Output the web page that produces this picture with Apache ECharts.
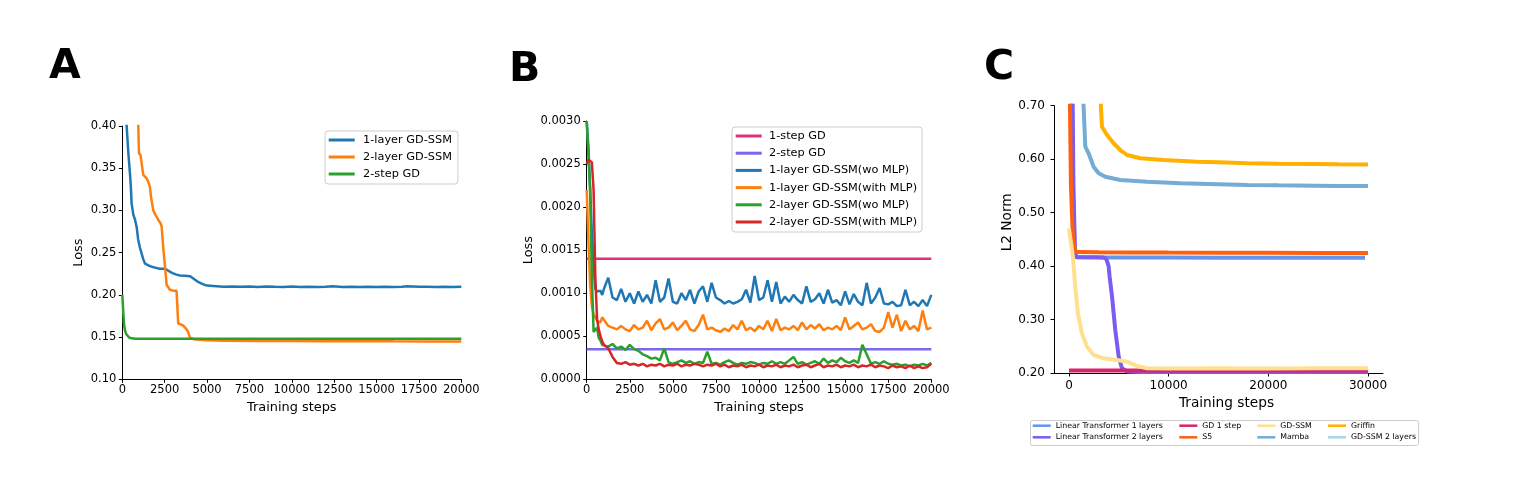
<!DOCTYPE html>
<html>
<head>
<meta charset="utf-8">
<script src="https://cdn.jsdelivr.net/npm/echarts@6/dist/echarts.min.js"></script>
<style>html,body{margin:0;padding:0;background:#fff}#main{width:1522px;height:486px}</style>
</head>
<body>
<div id="main"></div>
<script>
// ---------- Panel A data ----------
const aXTicks = [0, 2500, 5000, 7500, 10000, 12500, 15000, 17500, 20000];
const aBlue1LayerGDSSM = [[100,0.47],[256,0.40],[350,0.37],[450,0.344],[500,0.33],[550,0.308],[650,0.295],[750,0.289],[850,0.28],[940,0.265],[1040,0.256],[1140,0.249],[1240,0.242],[1340,0.237],[1450,0.235],[1630,0.234],[1800,0.233],[2000,0.232],[2200,0.231],[2420,0.231],[2600,0.230],[2710,0.229],[2850,0.227],[3000,0.2255],[3200,0.224],[3400,0.223],[3700,0.2225],[4000,0.222],[4150,0.220],[4290,0.218],[4500,0.215],[4780,0.2125],[5000,0.211],[5370,0.2105],[5960,0.2095],[6500,0.2100],[7000,0.2095],[7500,0.2098],[8000,0.2092],[8500,0.2100],[9000,0.2095],[9500,0.2093],[10000,0.2098],[10500,0.2094],[11000,0.2096],[11500,0.2092],[12000,0.2097],[12400,0.2102],[13000,0.2094],[13500,0.2097],[14000,0.2093],[14500,0.2096],[15000,0.2094],[15500,0.2097],[16000,0.2093],[16500,0.2096],[16800,0.2101],[17500,0.2095],[18000,0.2097],[18500,0.2093],[19000,0.2096],[19500,0.2094],[20000,0.2095]];
const aOrange2LayerGDSSM = [[850,0.44],[944,0.40],[983,0.368],[1080,0.365],[1140,0.356],[1240,0.342],[1340,0.341],[1435,0.338],[1550,0.333],[1630,0.328],[1700,0.315],[1830,0.300],[1950,0.295],[2120,0.289],[2250,0.285],[2320,0.281],[2420,0.255],[2520,0.2334],[2615,0.212],[2810,0.206],[3000,0.205],[3200,0.205],[3300,0.166],[3450,0.165],[3600,0.1635],[3800,0.159],[3900,0.155],[3990,0.1493],[4200,0.1475],[4390,0.147],[5000,0.1462],[6000,0.1457],[8000,0.1455],[10000,0.1453],[12000,0.1452],[14000,0.1452],[16000,0.145],[18000,0.1449],[20000,0.1448]];
const aGreen2StepGD = [[0,0.20],[30,0.19],[60,0.178],[100,0.166],[157,0.158],[220,0.154],[295,0.1517],[400,0.1495],[550,0.1485],[800,0.148],[2000,0.148],[5000,0.148],[10000,0.148],[15000,0.148],[20000,0.148]];

// ---------- Panel B data ----------
const bSteps = [0,100,200,300,400,500,600,700,800,900,1000,1250,1500,1750,2000,2250,2500,2750,3000,3250,3500,3750,4000,4250,4500,4750,5000,5250,5500,5750,6000,6250,6500,6750,7000,7250,7500,7750,8000,8250,8500,8750,9000,9250,9500,9750,10000,10250,10500,10750,11000,11250,11500,11750,12000,12250,12500,12750,13000,13250,13500,13750,14000,14250,14500,14750,15000,15250,15500,15750,16000,16250,16500,16750,17000,17250,17500,17750,18000,18250,18500,18750,19000,19250,19500,19750,20000];
const b1StepGD = [[0,0.0014],[20000,0.0014]];
const b2StepGD = [[0,0.00035],[20000,0.00035]];
const b1LayerWoMLP = [0.0030,0.0027,0.0022,0.0017,0.0013,0.00105,0.00102,0.00100,0.00103,0.00098,0.00105,0.00118,0.00095,0.00092,0.00105,0.00090,0.00100,0.00088,0.00102,0.00090,0.00098,0.00088,0.00115,0.00090,0.00095,0.00117,0.00090,0.00088,0.00100,0.00092,0.00104,0.00088,0.00102,0.00108,0.00090,0.00112,0.00095,0.00092,0.00088,0.00091,0.00088,0.00090,0.00093,0.00104,0.00089,0.00120,0.00092,0.00095,0.00115,0.00090,0.00113,0.00088,0.00096,0.00090,0.00098,0.00092,0.00088,0.00108,0.00090,0.00093,0.00100,0.00088,0.00104,0.00089,0.00092,0.00086,0.00102,0.00087,0.00099,0.00090,0.00086,0.00112,0.00088,0.00095,0.00106,0.00088,0.00087,0.00090,0.00085,0.00086,0.00104,0.00086,0.00090,0.00085,0.00092,0.00085,0.00098];
const b1LayerWithMLP = [0.0022,0.0016,0.0011,0.00085,0.00075,0.00072,0.00068,0.00070,0.00066,0.00072,0.00070,0.00062,0.00060,0.00058,0.00062,0.00058,0.00056,0.00063,0.00058,0.00060,0.00068,0.00057,0.00065,0.00070,0.00058,0.00060,0.00066,0.00057,0.00062,0.00068,0.00058,0.00056,0.00063,0.00075,0.00058,0.00060,0.00057,0.00055,0.00059,0.00056,0.00063,0.00058,0.00068,0.00057,0.00060,0.00056,0.00062,0.00058,0.00068,0.00056,0.00070,0.00057,0.00060,0.00058,0.00062,0.00057,0.00066,0.00058,0.00063,0.00059,0.00064,0.00057,0.00060,0.00058,0.00062,0.00057,0.00072,0.00058,0.00062,0.00066,0.00058,0.00060,0.00064,0.00056,0.00055,0.00060,0.00078,0.00060,0.00075,0.00056,0.00068,0.00058,0.00062,0.00056,0.00080,0.00058,0.00060];
const b2LayerWoMLP = [0.0030,0.0030,0.0022,0.0012,0.00055,0.00055,0.00060,0.00048,0.00045,0.00040,0.00042,0.00038,0.00041,0.00036,0.00038,0.00034,0.00040,0.00035,0.00033,0.00029,0.00027,0.00024,0.00025,0.00022,0.00036,0.00020,0.00018,0.00020,0.00022,0.00019,0.00021,0.00018,0.00020,0.00019,0.00032,0.00018,0.00019,0.00017,0.00020,0.00022,0.00019,0.00017,0.00019,0.00018,0.00020,0.00019,0.00017,0.00019,0.00018,0.00021,0.00018,0.00020,0.00018,0.00022,0.00026,0.00018,0.00020,0.00017,0.00019,0.00021,0.00018,0.00024,0.00019,0.00022,0.00020,0.00025,0.00021,0.00019,0.00022,0.00019,0.00040,0.00029,0.00018,0.00020,0.00018,0.00021,0.00018,0.00017,0.00018,0.00016,0.00017,0.00015,0.00017,0.00016,0.00018,0.00016,0.00019];
const b2LayerWithMLP = [0.0025,0.00255,0.00255,0.00252,0.0022,0.0012,0.0007,0.00058,0.00050,0.00044,0.00040,0.00036,0.00026,0.00019,0.00018,0.00020,0.00017,0.00018,0.00016,0.00018,0.00015,0.00017,0.00016,0.00018,0.00015,0.00017,0.00016,0.00018,0.00015,0.00017,0.00016,0.00018,0.00017,0.00015,0.00017,0.00016,0.00018,0.00015,0.00017,0.00014,0.00016,0.00015,0.00017,0.00014,0.00016,0.00015,0.00017,0.00014,0.00016,0.00015,0.00017,0.00014,0.00016,0.00015,0.00017,0.00014,0.00016,0.00017,0.00014,0.00016,0.00018,0.00014,0.00016,0.00015,0.00017,0.00014,0.00016,0.00015,0.00017,0.00014,0.00016,0.00015,0.00017,0.00014,0.00016,0.00015,0.00013,0.00016,0.00014,0.00015,0.00013,0.00016,0.00013,0.00015,0.00013,0.00014,0.00018];

// ---------- Panel C data ----------
const cXTicks = [0, 10000, 20000, 30000];
const cLinTrans1 = [[250,0.80],[400,0.55],[550,0.44],[700,0.417],[1500,0.4165],[5000,0.416],[10000,0.416],[15000,0.4158],[20000,0.4158],[25000,0.4157],[29700,0.4157]];
const cLinTrans2 = [[300,0.85],[450,0.55],[600,0.43],[700,0.4164],[1500,0.4164],[2500,0.4164],[3480,0.4160],[3750,0.413],[3980,0.40],[4080,0.38],[4320,0.343],[4650,0.28],[4990,0.2305],[5320,0.209],[5830,0.203],[7000,0.202],[30000,0.202]];
const cGD1Step = [[0,0.2045],[30000,0.2045]];
const cS5 = [[60,0.85],[100,0.70],[200,0.55],[400,0.45],[630,0.428],[1000,0.4262],[3000,0.4258],[6000,0.4255],[10000,0.4252],[15000,0.425],[20000,0.4248],[25000,0.4246],[30000,0.4245]];
const cGDSSM = [[0,0.4707],[200,0.4675],[400,0.4176],[630,0.3615],[900,0.3116],[1300,0.2742],[1810,0.249],[2480,0.2337],[3480,0.2275],[4820,0.2243],[5830,0.2212],[6830,0.2131],[7840,0.2088],[10000,0.2085],[15000,0.2088],[20000,0.2086],[25000,0.2088],[30000,0.2088]];
const cMamba = [[1300,0.75],[1470,0.698],[1640,0.6233],[1970,0.611],[2470,0.5859],[2980,0.5735],[3650,0.5672],[5150,0.561],[7840,0.5579],[11180,0.5548],[14000,0.5535],[17880,0.5517],[21000,0.551],[24580,0.5504],[27000,0.55],[30000,0.5498]];
const cGriffin = [[3100,0.75],[3200,0.70],[3310,0.6607],[3820,0.6452],[4480,0.6297],[5150,0.6171],[5830,0.6078],[7160,0.6016],[9500,0.5984],[12860,0.5953],[15000,0.594],[17880,0.5922],[21000,0.5915],[24580,0.591],[27000,0.5905],[30000,0.5902]];
const cGDSSM2Layers = [];

// ---------- build ----------
const FF = '"DejaVu Sans", sans-serif';
const zip = (xs, ys) => xs.map((x, i) => [x, ys[i]]);

function axisBase(fs, margin) {
  return {
    axisLine: {show: true, onZero: false, lineStyle: {color: '#000', width: 1}},
    axisTick: {show: true, inside: false, length: 3.5, lineStyle: {color: '#000', width: 1}},
    axisLabel: {color: '#000', fontSize: fs, fontFamily: FF, margin: margin},
    splitLine: {show: false}
  };
}

const C = {
  aBlue: '#1f77b4', aOrange: '#ff7f0e', aGreen: '#2ca02c',
  b1step: '#e0307e', b2step: '#7b68ee', bBlue: '#1f77b4', bOrange: '#ff7f0e', bGreen: '#2ca02c', bRed: '#d62728',
  lt1: '#6495ed', lt2: '#7b5cf0', gd1: '#d6246e', s5: '#ff5f0f', gdssm: '#ffe08f', mamba: '#74acd3', griffin: '#ffb000', gdssm2: '#a6d8e8'
};

function line(name, data, color, xi, w) {
  return {type: 'line', name, data, xAxisIndex: xi, yAxisIndex: xi, showSymbol: false, symbol: 'none',
    lineStyle: {color, width: w}, itemStyle: {color}, color, clip: true, animation: false};
}
function leg(name, color) { return {name, itemStyle: {color, borderWidth: 0}, lineStyle: {color}}; }

const series = [
  line('1-layer GD-SSM', aBlue1LayerGDSSM, C.aBlue, 0, 2.5),
  line('2-layer GD-SSM', aOrange2LayerGDSSM, C.aOrange, 0, 2.5),
  line('2-step GD', aGreen2StepGD, C.aGreen, 0, 2.5),
  line('1-step GD', b1StepGD, C.b1step, 1, 2.5),
  line('2-step GD (B)', b2StepGD, C.b2step, 1, 2.5),
  line('1-layer GD-SSM(wo MLP)', zip(bSteps, b1LayerWoMLP), C.bBlue, 1, 2.5),
  line('1-layer GD-SSM(with MLP)', zip(bSteps, b1LayerWithMLP), C.bOrange, 1, 2.5),
  line('2-layer GD-SSM(wo MLP)', zip(bSteps, b2LayerWoMLP), C.bGreen, 1, 2.5),
  line('2-layer GD-SSM(with MLP)', zip(bSteps, b2LayerWithMLP), C.bRed, 1, 2.5),
  line('Linear Transformer 1 layers', cLinTrans1, C.lt1, 2, 4),
  line('Linear Transformer 2 layers', cLinTrans2, C.lt2, 2, 4),
  line('GD 1 step', cGD1Step, C.gd1, 2, 4),
  line('S5', cS5, C.s5, 2, 4),
  line('GD-SSM', cGDSSM, C.gdssm, 2, 4),
  line('Mamba', cMamba, C.mamba, 2, 4),
  line('Griffin', cGriffin, C.griffin, 2, 4),
  line('GD-SSM 2 layers', cGDSSM2Layers, C.gdssm2, 2, 4)
];

const legABText = {fontFamily: FF, fontSize: 11.3, color: '#000', lineHeight: 13};
const legCText = {fontFamily: FF, fontSize: 7.8, color: '#000', lineHeight: 9};
function legendC(left, items) {
  return {left, top: 421.2, orient: 'vertical', itemWidth: 18, itemHeight: 2.5, itemGap: 2.6, padding: 0,
    icon: 'rect', selectedMode: false, textStyle: legCText, data: items};
}

const option = {
  backgroundColor: '#fff',
  animation: false,
  grid: [
    {left: 122.3, top: 126, width: 339, height: 253.3},
    {left: 586.7, top: 121, width: 344.6, height: 258.3},
    {left: 1054, top: 105.7, width: 329, height: 267.3}
  ],
  xAxis: [
    Object.assign(axisBase(11.5, 5), {type: 'value', gridIndex: 0, min: 0, max: 20000, interval: 2500,
      name: 'Training steps', nameLocation: 'middle', nameGap: 19,
      nameTextStyle: {fontFamily: FF, fontSize: 12.9, color: '#000'}}),
    Object.assign(axisBase(11.5, 5), {type: 'value', gridIndex: 1, min: 0, max: 20000, interval: 2500,
      name: 'Training steps', nameLocation: 'middle', nameGap: 19,
      nameTextStyle: {fontFamily: FF, fontSize: 12.9, color: '#000'}}),
    Object.assign(axisBase(12, 7), {type: 'value', gridIndex: 2, min: -1500, max: 31500,
      name: 'Training steps', nameLocation: 'middle', nameGap: 21,
      nameTextStyle: {fontFamily: FF, fontSize: 13.7, color: '#000', padding: [0, 0, 0, 16]}})
  ],
  yAxis: [
    Object.assign(axisBase(11.5, 6), {type: 'value', gridIndex: 0, min: 0.10, max: 0.40, interval: 0.05,
      name: 'Loss', nameLocation: 'middle', nameGap: 37,
      nameTextStyle: {fontFamily: FF, fontSize: 12.9, color: '#000'}}),
    Object.assign(axisBase(11.5, 6), {type: 'value', gridIndex: 1, min: 0, max: 0.003, interval: 0.0005,
      name: 'Loss', nameLocation: 'middle', nameGap: 52,
      nameTextStyle: {fontFamily: FF, fontSize: 12.9, color: '#000'}}),
    Object.assign(axisBase(12, 9), {type: 'value', gridIndex: 2, min: 0.2, max: 0.7, interval: 0.1,
      name: 'L2 Norm', nameLocation: 'middle', nameGap: 39,
      nameTextStyle: {fontFamily: FF, fontSize: 13.7, color: '#000', padding: [0, 0, 0, 34]}})
  ],
  legend: [
    {left: 325, top: 131, orient: 'vertical', itemWidth: 26, itemHeight: 3, itemGap: 4, padding: [2.5, 6, 3.5, 3.7],
      icon: 'rect', selectedMode: false, borderColor: '#cccccc', borderWidth: 1, borderRadius: 3,
      backgroundColor: 'rgba(255,255,255,0.8)', textStyle: Object.assign({padding: [0, 0, 0, 3.4]}, legABText),
      data: [leg('1-layer GD-SSM', C.aBlue), leg('2-layer GD-SSM', C.aOrange), leg('2-step GD', C.aGreen)],
      formatter: n => n},
    {left: 732, top: 127, orient: 'vertical', itemWidth: 26, itemHeight: 3, itemGap: 4.2, padding: [2.5, 5, 3.5, 3.7],
      icon: 'rect', selectedMode: false, borderColor: '#cccccc', borderWidth: 1, borderRadius: 3,
      backgroundColor: 'rgba(255,255,255,0.8)', textStyle: Object.assign({padding: [0, 0, 0, 2.3]}, legABText),
      data: [leg('1-step GD', C.b1step), leg('2-step GD (B)', C.b2step), leg('1-layer GD-SSM(wo MLP)', C.bBlue),
             leg('1-layer GD-SSM(with MLP)', C.bOrange), leg('2-layer GD-SSM(wo MLP)', C.bGreen), leg('2-layer GD-SSM(with MLP)', C.bRed)],
      formatter: n => n === '2-step GD (B)' ? '2-step GD' : n},
    legendC(1032.7, [leg('Linear Transformer 1 layers', C.lt1), leg('Linear Transformer 2 layers', C.lt2)]),
    legendC(1179.3, [leg('GD 1 step', C.gd1), leg('S5', C.s5)]),
    legendC(1257.3, [leg('GD-SSM', C.gdssm), leg('Mamba', C.mamba)]),
    legendC(1328, [leg('Griffin', C.griffin), leg('GD-SSM 2 layers', C.gdssm2)])
  ],
  graphic: [
    {type: 'rect', z: 0, shape: {x: 1030.5, y: 420.5, width: 388, height: 25, r: 2},
      style: {fill: '#fff', stroke: '#cccccc', lineWidth: 1}},
    {type: 'text', x: 49, y: 67.7, style: {text: 'A', font: 'bold 41px "DejaVu Sans"', fill: '#000', verticalAlign: 'middle', align: 'left'}},
    {type: 'text', x: 509, y: 70.7, style: {text: 'B', font: 'bold 41px "DejaVu Sans"', fill: '#000', verticalAlign: 'middle', align: 'left'}},
    {type: 'text', x: 984, y: 68, style: {text: 'C', font: 'bold 41px "DejaVu Sans"', fill: '#000', verticalAlign: 'middle', align: 'left'}}
  ],
  series
};

// number formatting for tick labels
option.xAxis[0].axisLabel.formatter = v => String(v);
option.xAxis[1].axisLabel.formatter = v => String(v);
option.xAxis[2].axisLabel.formatter = v => String(v);
option.xAxis[2].axisLabel.customValues = cXTicks;
option.xAxis[2].axisTick.customValues = cXTicks;
option.yAxis[0].axisLabel.formatter = v => v.toFixed(2);
option.yAxis[1].axisLabel.formatter = v => v.toFixed(4);
option.yAxis[2].axisLabel.formatter = v => v.toFixed(2);

const chart = echarts.init(document.getElementById('main'), null, {renderer: 'canvas'});
chart.setOption(option);
</script>
</body>
</html>
